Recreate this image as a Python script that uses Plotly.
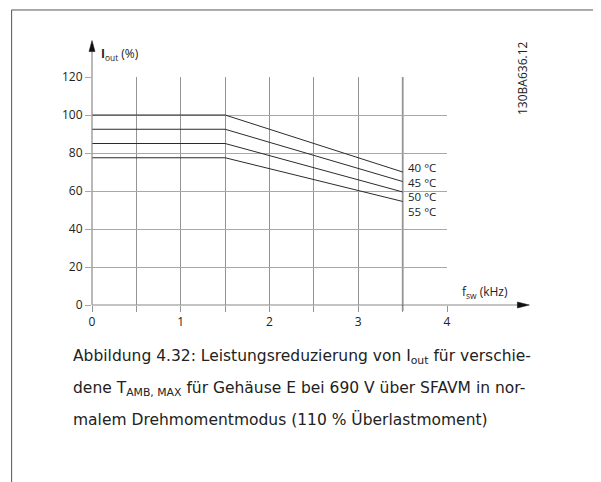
import plotly.graph_objects as go

# Data
freq_khz = [0, 1.5, 3.5]
series_names = ["40 °C", "45 °C", "50 °C", "55 °C"]
iout_40 = [100, 100, 70]
iout_45 = [92.5, 92.5, 65]
iout_50 = [85, 85, 59.5]
iout_55 = [77.5, 77.5, 54.5]
label_y = [72.3, 64.6, 56.9, 49.2]  # label positions (layout)

x_range = [0, 4]
y_range = [0, 120]
y_tickvals = [0, 20, 40, 60, 80, 100, 120]

OFF = 8  # browser body margin
W, H = 601 - OFF, 482 - OFF
L, R, T, B = 92, 447.5, 77.4, 305  # page pixel coords of plot area
PW, PH = R - L, B - T

def px(xp):
    return (xp - L) / PW

def py(yp):
    return (B - yp) / PH

fig = go.Figure()
for name, vals in zip(series_names, [iout_40, iout_45, iout_50, iout_55]):
    fig.add_trace(go.Scatter(x=freq_khz, y=vals, mode="lines", name=name,
                             line=dict(color="#2b2b2b", width=1), showlegend=False,
                             hoverinfo="skip"))

vgrid = "#949494"
hgrid = "#a8a8a8"
fig.update_xaxes(range=x_range, dtick=1, tick0=0,
                 showgrid=True, gridcolor=vgrid, gridwidth=1, zeroline=False,
                 showline=False, ticks="outside", ticklen=6, tickcolor=vgrid,
                 minor=dict(dtick=0.5, tick0=0, showgrid=True, gridcolor=vgrid,
                            gridwidth=1, ticks="outside", ticklen=6, tickcolor=vgrid),
                 tickfont=dict(family="Open Sans", size=12, color="#222"))
fig.update_yaxes(range=y_range, tickvals=y_tickvals, showgrid=True,
                 gridcolor=hgrid, gridwidth=1, zeroline=False, showline=False,
                 ticks="outside", ticklen=6, tickcolor=hgrid,
                 tickfont=dict(family="Open Sans", size=12, color="#222"))

shapes = []
# darker 3.5 kHz line
shapes.append(dict(type="line", xref="x", yref="paper", x0=3.5, x1=3.5, y0=py(311), y1=1,
                   line=dict(color="#555", width=1.5), layer="between"))
# white box behind labels
shapes.append(dict(type="rect", xref="paper", yref="paper", x0=px(404.5), x1=px(449.5),
                   y0=py(222), y1=py(156), fillcolor="white", line=dict(width=0),
                   layer="between"))
# axes with arrows
axc = "#8a8a8a"
shapes.append(dict(type="line", xref="paper", yref="paper", x0=px(92), x1=px(520),
                   y0=py(305), y1=py(305), line=dict(color=axc, width=1.2)))
shapes.append(dict(type="line", xref="paper", yref="paper", x0=px(92), x1=px(92),
                   y0=py(305), y1=py(48), line=dict(color=axc, width=1.2)))
shapes.append(dict(type="path", xref="paper", yref="paper",
                   path=f"M {px(530)} {py(305)} L {px(518)} {py(302)} L {px(518)} {py(308)} Z",
                   fillcolor="#111", line=dict(color="#111", width=0.5)))
shapes.append(dict(type="path", xref="paper", yref="paper",
                   path=f"M {px(92)} {py(41)} L {px(89)} {py(52)} L {px(95)} {py(52)} Z",
                   fillcolor="#111", line=dict(color="#111", width=0.5)))
# page border lines
shapes.append(dict(type="line", xref="paper", yref="paper", x0=px(11.5), x1=px(601),
                   y0=py(10.5), y1=py(10.5), line=dict(color="#555", width=1)))
shapes.append(dict(type="line", xref="paper", yref="paper", x0=px(11.5), x1=px(11.5),
                   y0=py(10.5), y1=py(482), line=dict(color="#555", width=1)))

ann = []
for name, yl in zip(series_names, label_y):
    ann.append(dict(x=3.54, y=yl, xref="x", yref="y", text=name, showarrow=False,
                    xanchor="left", yanchor="middle",
                    font=dict(family="Open Sans", size=11.5, color="#222")))
ann.append(dict(x=px(99), y=py(54), xref="paper", yref="paper",
                text="<b>I</b><sub>out</sub> (%)", showarrow=False, xanchor="left",
                yanchor="middle", font=dict(family="Open Sans", size=12, color="#222")))
ann.append(dict(x=px(461), y=py(292), xref="paper", yref="paper",
                text="f<sub>sw</sub> (kHz)", showarrow=False, xanchor="left",
                yanchor="middle", font=dict(family="Open Sans", size=12, color="#222")))
ann.append(dict(x=px(523), y=py(78), xref="paper", yref="paper", text="130BA636.12",
                textangle=-90, showarrow=False, xanchor="center", yanchor="middle",
                font=dict(family="Open Sans", size=12, color="#222")))

caption = [
    "Abbildung 4.32: Leistungsreduzierung von I<sub>out</sub> für verschie-",
    "dene T<sub>AMB, MAX</sub> für Gehäuse E bei 690 V über SFAVM in nor-",
    "malem Drehmomentmodus (110 % Überlastmoment)",
]
for line, yc in zip(caption, [357, 389, 419]):
    ann.append(dict(x=px(71), y=py(yc), xref="paper", yref="paper", text=line,
                    showarrow=False, xanchor="left", yanchor="middle",
                    font=dict(family="DejaVu Sans", size=15.5, color="#222")))

fig.update_layout(width=W, height=H,
                  margin=dict(l=L - OFF, r=W - (R - OFF), t=T - OFF, b=H - (B - OFF)),
                  paper_bgcolor="white", plot_bgcolor="white",
                  shapes=shapes, annotations=ann)
fig.write_html("out.html")
